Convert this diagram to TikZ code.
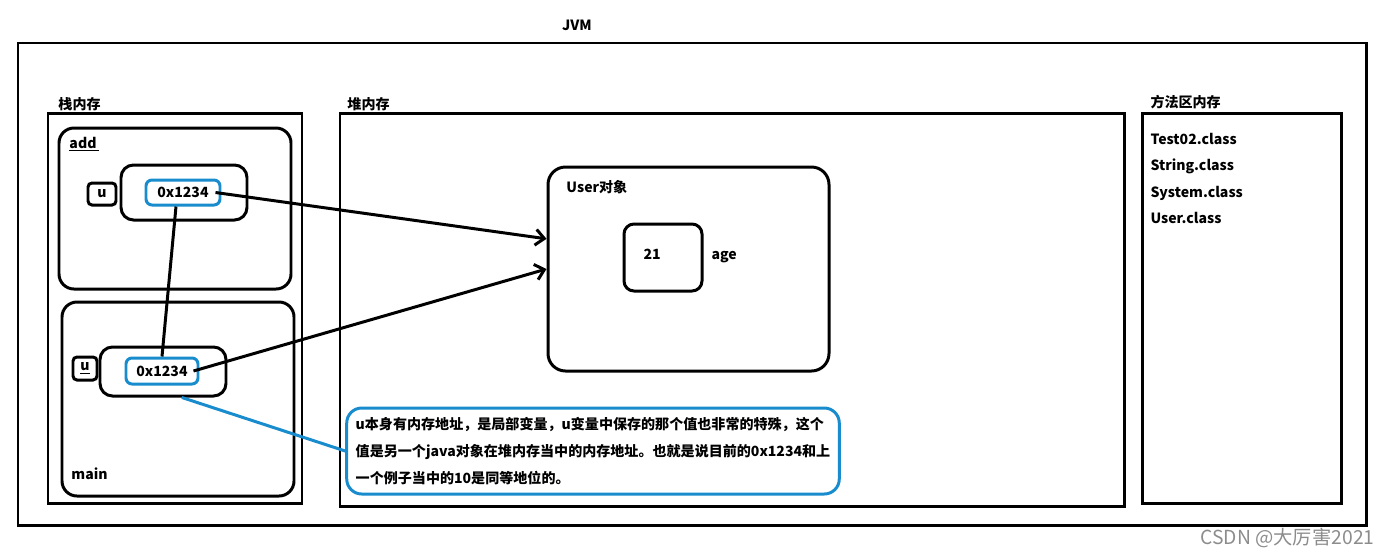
\documentclass[tikz,border=0pt]{standalone}
\usepackage{fontspec}
\setmainfont{Noto Sans CJK SC}
\usetikzlibrary{arrows.meta}
\definecolor{refblue}{RGB}{25,140,205}
\tikzset{
>={Straight Barb[length=5pt,width=9pt]}, % open barbs on the pointers
px/.style 2 args={minimum width=#1*0.02cm,minimum height=#2*0.02cm},
txt/.style={inner sep=0pt,font=\fontsize{8}{10}\selectfont\bfseries},
area/.style={draw,rectangle,inner sep=0pt},
frame/.style={draw,rectangle,rounded corners=3mm,inner sep=0pt},
cell/.style={draw,rectangle,rounded corners=2.5mm,inner sep=0pt},
tag/.style={draw,rectangle,rounded corners=0.8mm,txt},
slot/.style={draw=refblue,rectangle,rounded corners=1.2mm,txt},
note/.style={draw=refblue,rectangle,rounded corners=3mm,inner sep=0.18cm,
  align=left,font=\fontsize{8}{15.3}\selectfont\bfseries},
wmark/.style={inner sep=0pt,text=black!45,font=\fontsize{11}{13}\selectfont}
}

\begin{document}
\begin{tikzpicture}[x=0.02cm,y=-0.02cm,line width=1.7pt]
\useasboundingbox (0,0) rectangle (1386,552);
% JVM
\node[area,px={1348}{482}] (jvm) at (692,284) {};
\node[txt,anchor=base] (jvmlbl) at (577,30) {JVM};
% stack
\node[area,px={254}{390}] (stack) at (175,308) {};
\node[txt,anchor=base west] (stacklbl) at (57,109) {栈内存};
\node[frame,px={232}{161}] (add) at (175,208.5) {};
\node[txt,anchor=base west] (addlbl) at (68,148) {\underline{add\,}};
\node[tag,px={28}{22}] (addu) at (102,194) {u};
\node[cell,px={126}{55}] (addcell) at (184,192.5) {};
\node[slot,px={74}{25}] (addval) at (183,192.5) {0x1234};
\node[frame,px={232}{194}] (main) at (178,399) {};
\node[txt,anchor=base west] (mainlbl) at (70,479) {main};
\node[tag,px={24}{23}] (mainu) at (85,368.5) {\underline{u}};
\node[cell,px={126}{49}] (maincell) at (163,371.5) {};
\node[slot,px={72}{26}] (mainval) at (162,371) {0x1234};
% heap
\node[area,px={784}{393}] (heap) at (732,309.5) {};
\node[txt,anchor=base west] (heaplbl) at (346,109) {堆内存};
\node[frame,px={281}{204},rounded corners=3.5mm] (userobj) at (688.5,269) {};
\node[txt,anchor=base west] (userlbl) at (565,192) {User对象};
\node[cell,px={78}{67},rounded corners=2mm] (age) at (663,257.5) {};
\node[txt,anchor=base west] (agev) at (642,259) {21};
\node[txt,anchor=base west] (agelbl) at (710,259) {age};
\node[note,px={490}{86}] (note) at (593,451) {u本身有内存地址，是局部变量，u变量中保存的那个值也非常的特殊，这个\\
值是另一个java对象在堆内存当中的内存地址。也就是说目前的0x1234和上\\
一个例子当中的10是同等地位的。};
% method area
\node[area,px={199}{390}] (method) at (1241.5,308) {};
\node[txt,anchor=base west] (methodlbl) at (1149,107) {方法区内存};
\node[txt,anchor=base west] (cls1) at (1149,144) {Test02.class};
\node[txt,anchor=base west] (cls2) at (1149,170) {String.class};
\node[txt,anchor=base west] (cls3) at (1149,197) {System.class};
\node[txt,anchor=base west] (cls4) at (1149,223) {User.class};
\node[wmark,anchor=base east] (wm) at (1376,544) {CSDN @大厉害2021};
% pointers
\path[->]
  ([xshift=-0.12cm]addval.east) edge (userobj.168)
  ([xshift=-0.12cm]mainval.east) edge (userobj.west);
\draw ([xshift=-0.14cm]addval.south) -- (mainval.north);
\draw[refblue] (maincell.-54) -- (note.west);
\end{tikzpicture}
\end{document}
